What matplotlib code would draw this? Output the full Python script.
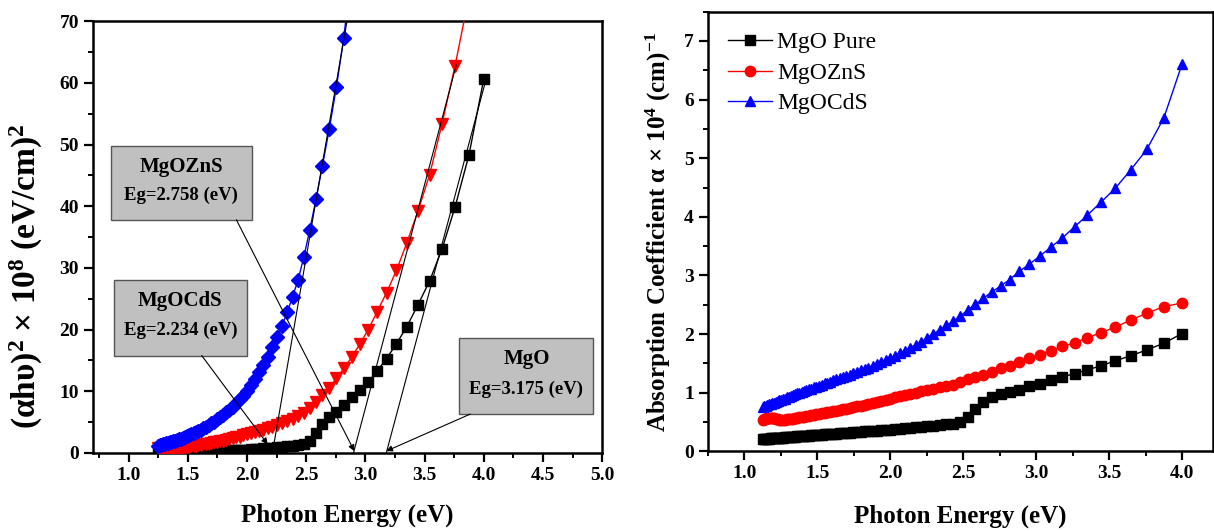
import matplotlib
matplotlib.use("Agg")
import matplotlib.pyplot as plt
from matplotlib.patches import Rectangle
from matplotlib.ticker import MultipleLocator, FormatStrFormatter

plt.rcParams['font.family'] = ['Liberation Serif', 'DejaVu Serif']
plt.rcParams['font.weight'] = 'bold'
plt.rcParams['mathtext.fontset'] = 'custom'
plt.rcParams['mathtext.rm'] = 'Liberation Serif:bold'
plt.rcParams['mathtext.bf'] = 'Liberation Serif:bold'
plt.rcParams['mathtext.it'] = 'Liberation Serif:bold:italic'

# photon energy (eV), 1100 nm -> 310 nm in 10 nm steps
energy = [1.127, 1.138, 1.148, 1.159, 1.170, 1.181, 1.192, 1.204, 1.216, 1.228,
          1.240, 1.253, 1.265, 1.278, 1.292, 1.305, 1.319, 1.333, 1.348, 1.363,
          1.378, 1.393, 1.409, 1.425, 1.442, 1.459, 1.476, 1.494, 1.512, 1.531,
          1.550, 1.570, 1.590, 1.610, 1.632, 1.653, 1.676, 1.699, 1.722, 1.746,
          1.771, 1.797, 1.824, 1.851, 1.879, 1.908, 1.938, 1.968, 2.000, 2.033,
          2.067, 2.102, 2.138, 2.175, 2.214, 2.255, 2.296, 2.340, 2.385, 2.431,
          2.480, 2.531, 2.583, 2.638, 2.696, 2.756, 2.818, 2.884, 2.952, 3.024,
          3.100, 3.179, 3.263, 3.351, 3.444, 3.543, 3.647, 3.758, 3.875, 4.000]

# absorption coefficient (x 10^4 cm^-1)
alpha_mgo = [0.210, 0.212, 0.214, 0.216, 0.218, 0.220, 0.222, 0.225, 0.227, 0.229,
             0.231, 0.234, 0.236, 0.239, 0.241, 0.244, 0.246, 0.249, 0.252, 0.255,
             0.258, 0.260, 0.264, 0.267, 0.270, 0.273, 0.276, 0.280, 0.283, 0.286,
             0.290, 0.293, 0.297, 0.300, 0.304, 0.308, 0.312, 0.316, 0.320, 0.325,
             0.329, 0.334, 0.339, 0.343, 0.348, 0.354, 0.359, 0.364, 0.370, 0.378,
             0.386, 0.394, 0.402, 0.411, 0.420, 0.429, 0.439, 0.449, 0.459, 0.470,
             0.50, 0.59, 0.72, 0.85, 0.93, 0.98, 1.01, 1.05, 1.11, 1.15,
             1.21, 1.27, 1.325, 1.39, 1.46, 1.545, 1.63, 1.73, 1.845, 2.01]
alpha_zns = [0.54, 0.55, 0.56, 0.565, 0.57, 0.57, 0.57, 0.565, 0.56, 0.55,
             0.54, 0.535, 0.535, 0.54, 0.545, 0.55, 0.555, 0.56, 0.565, 0.57,
             0.58, 0.585, 0.59, 0.60, 0.605, 0.615, 0.62, 0.63, 0.64, 0.65,
             0.655, 0.665, 0.675, 0.685, 0.695, 0.705, 0.715, 0.73, 0.74, 0.755,
             0.77, 0.78, 0.795, 0.81, 0.825, 0.84, 0.86, 0.88, 0.90, 0.92,
             0.94, 0.96, 0.98, 1.00, 1.03, 1.05, 1.07, 1.09, 1.11, 1.14,
             1.18, 1.23, 1.27, 1.31, 1.36, 1.42, 1.46, 1.53, 1.59, 1.65,
             1.72, 1.79, 1.85, 1.94, 2.025, 2.12, 2.24, 2.355, 2.47, 2.53]
alpha_cds = [0.76, 0.77, 0.78, 0.79, 0.80, 0.81, 0.82, 0.83, 0.84, 0.86,
             0.87, 0.88, 0.89, 0.90, 0.92, 0.93, 0.94, 0.96, 0.97, 0.99,
             1.00, 1.01, 1.03, 1.04, 1.06, 1.07, 1.09, 1.10, 1.12, 1.14,
             1.16, 1.17, 1.19, 1.21, 1.23, 1.25, 1.27, 1.29, 1.31, 1.34,
             1.36, 1.38, 1.41, 1.43, 1.46, 1.49, 1.52, 1.55, 1.59, 1.63,
             1.68, 1.72, 1.77, 1.82, 1.87, 1.94, 2.01, 2.07, 2.15, 2.22,
             2.31, 2.41, 2.51, 2.61, 2.72, 2.82, 2.93, 3.07, 3.19, 3.33,
             3.48, 3.64, 3.83, 4.03, 4.25, 4.49, 4.80, 5.15, 5.69, 6.61]

# Tauc plot (alpha h nu)^2 x 10^8, from 990 nm upward
tauc_mgo = [0.086, 0.089, 0.093, 0.097, 0.101, 0.105, 0.110, 0.115, 0.121,
            0.126, 0.131, 0.138, 0.145, 0.152, 0.159, 0.166, 0.175, 0.183, 0.192,
            0.202, 0.212, 0.223, 0.233, 0.246, 0.259, 0.273, 0.288, 0.304, 0.322,
            0.340, 0.360, 0.382, 0.403, 0.428, 0.456, 0.484, 0.513, 0.548, 0.591,
            0.637, 0.686, 0.739, 0.799, 0.865, 0.936, 1.016, 1.104, 1.198, 1.305,
            1.4, 2.0, 3.2, 4.7, 5.8, 6.7, 7.8, 9.0, 10.2, 11.5,
            13.3, 15.3, 17.7, 20.5, 24.0, 27.9, 33.0, 39.9, 48.3, 60.6]
tauc_zns = [0.80, 0.62, 0.55, 0.56, 0.58, 0.60, 0.62, 0.64, 0.67,
            0.70, 0.73, 0.76, 0.80, 0.84, 0.88, 0.92, 0.96, 1.01, 1.06,
            1.11, 1.17, 1.23, 1.30, 1.37, 1.44, 1.52, 1.61, 1.70, 1.80,
            1.90, 2.00, 2.12, 2.24, 2.37, 2.51, 2.66, 2.83, 3.00, 3.18,
            3.37, 3.57, 3.79, 4.02, 4.27, 4.55, 4.85, 5.18, 5.53, 5.92,
            6.4, 7.25, 8.25, 9.35, 10.6, 12.1, 13.7, 15.5, 17.6, 20.0,
            22.9, 26.0, 29.6, 34.1, 39.2, 45.1, 53.3, 62.8, 74.0]
tauc_cds = [1.10, 1.27, 1.32, 1.41, 1.47, 1.54, 1.64, 1.71, 1.82,
            1.90, 1.98, 2.11, 2.20, 2.34, 2.44, 2.59, 2.70, 2.87, 3.05,
            3.23, 3.37, 3.58, 3.80, 4.03, 4.27, 4.53, 4.80, 5.09, 5.47,
            5.80, 6.15, 6.61, 7.01, 7.53, 8.08, 8.68, 9.31, 10.1, 11.0,
            12.0, 13.1, 14.3, 15.6, 17.1, 18.8, 20.6, 22.8, 25.3, 28.0,
            31.7, 36.2, 41.1, 46.6, 52.6, 59.4, 67.3, 78.4]

# linear fits: (x at y=0, x at top, y at top)
fit_x0 = [2.215, 2.90, 3.177]
fit_x1 = [2.845, 3.768, 4.02]
fit_y1 = [70.0, 62.9, 60.6]

labels = ['MgOCdS', 'MgOZnS', 'MgO']
eg_text = ['Eg=2.234 (eV)', 'Eg=2.758 (eV)', 'Eg=3.175 (eV)']

fig = plt.figure(figsize=(12.14, 5.31), dpi=100)
ax1 = fig.add_axes([0.0766, 0.147, 0.4194, 0.813])
ax2 = fig.add_axes([0.583, 0.150, 0.416, 0.828])

e_tauc = energy[11:]
ax1.plot(e_tauc, tauc_mgo, '-s', color='black', lw=1, ms=7.5, zorder=3)
ax1.plot(e_tauc[:len(tauc_zns)], tauc_zns, '-v', color='red', lw=1, ms=8.5, zorder=4)
ax1.plot(e_tauc[:len(tauc_cds)], tauc_cds, '-D', color='blue', lw=1, ms=7, zorder=5)

for x0, x1, y1 in zip(fit_x0, fit_x1, fit_y1):
    ax1.plot([x0, x1], [0, y1], color='black', lw=0.8, zorder=6)

# label boxes (x0, x1, y0, y1) with arrows pointing at the band gap
boxes = [(0.875, 2.0, 15.8, 28.1), (0.848, 2.04, 37.8, 49.8), (3.795, 4.926, 6.3, 18.7)]
arrow_from = [(1.618, 15.8), (1.911, 37.8), (3.886, 6.3)]
arrow_to = [(2.175, 1.4), (2.907, 0.3), (3.177, 0.3)]
for (bx0, bx1, by0, by1), lab, eg, a0, a1 in zip(boxes, labels, eg_text, arrow_from, arrow_to):
    ax1.add_patch(Rectangle((bx0, by0), bx1 - bx0, by1 - by0, facecolor='#c0c0c0',
                            edgecolor='#555555', lw=1, zorder=7))
    cx = (bx0 + bx1) / 2
    ax1.text(cx, by0 + 0.72 * (by1 - by0), lab, ha='center', va='center',
             fontsize=15, fontweight='bold', zorder=8)
    ax1.text(cx, by0 + 0.33 * (by1 - by0), eg, ha='center', va='center',
             fontsize=13.5, fontweight='bold', zorder=8)
    ax1.annotate('', xy=a1, xytext=a0, zorder=8,
                 arrowprops=dict(arrowstyle='-|>', color='black', lw=0.8,
                                 mutation_scale=9, shrinkA=0, shrinkB=0))

ax1.set_xlim(0.7, 5.0)
ax1.set_ylim(0, 70)
ax1.xaxis.set_major_locator(MultipleLocator(0.5))
ax1.xaxis.set_minor_locator(MultipleLocator(0.25))
ax1.xaxis.set_major_formatter(FormatStrFormatter('%.1f'))
ax1.yaxis.set_major_locator(MultipleLocator(10))
ax1.yaxis.set_minor_locator(MultipleLocator(5))
ax1.set_xlabel('Photon Energy (eV)', fontsize=18, fontweight='bold', labelpad=14)
ax1.set_ylabel(r'(αhυ)$^{2}$ × 10$^{8}$ (eV/cm)$^{2}$', fontsize=24,
               fontweight='bold')
ax1.yaxis.set_label_coords(-0.095, 0.41)

ax2.plot(energy, alpha_mgo, '-s', color='black', lw=1, ms=6.5, label='MgO Pure')
ax2.plot(energy, alpha_zns, '-o', color='red', lw=1, ms=7.5, label='MgOZnS')
ax2.plot(energy, alpha_cds, '-^', color='blue', lw=1, ms=7.5, label='MgOCdS')
ax2.set_xlim(0.75, 4.21)
ax2.set_ylim(0, 7.5)
ax2.xaxis.set_major_locator(MultipleLocator(0.5))
ax2.xaxis.set_minor_locator(MultipleLocator(0.25))
ax2.xaxis.set_major_formatter(FormatStrFormatter('%.1f'))
ax2.yaxis.set_major_locator(MultipleLocator(1))
ax2.yaxis.set_minor_locator(MultipleLocator(0.5))
ax2.set_xlabel('Photon Energy (eV)', fontsize=18, fontweight='bold', labelpad=16)
ax2.set_ylabel(r'Absorption Coefficient α × 10$^{4}$ (cm)$^{-1}$', fontsize=18,
               fontweight='bold', labelpad=8)
ax2.legend(loc='upper left', frameon=False, handlelength=1.85, handletextpad=0.25,
           prop={'family': 'Liberation Serif', 'weight': 'normal', 'size': 17},
           borderaxespad=0.45, labelspacing=0.38)

for ax in (ax1, ax2):
    for s in ax.spines.values():
        s.set_linewidth(1.8)
    ax.tick_params(which='major', direction='out', length=6.5, width=1.6,
                   labelsize=14, top=False, right=False)
    ax.tick_params(which='minor', direction='out', length=3.5, width=1.4,
                   top=False, right=False)
    for t in ax.get_xticklabels() + ax.get_yticklabels():
        t.set_fontweight('bold')

fig.savefig('out.png', dpi=100)
